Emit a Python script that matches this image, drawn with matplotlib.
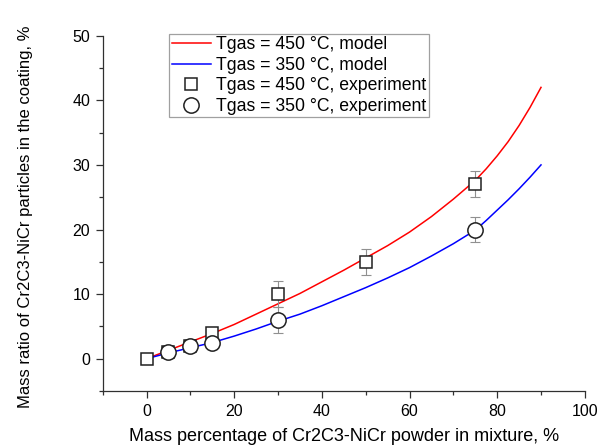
import numpy as np
import matplotlib
matplotlib.use("Agg")
import matplotlib.pyplot as plt
from matplotlib.ticker import MultipleLocator

plt.rcParams["font.family"] = ["Liberation Sans", "DejaVu Sans"]

# model curves
model_x = [0, 5, 10, 15, 20, 25, 30, 35, 40, 45, 50, 55, 60, 65, 70, 75,
           77.5, 80, 82.5, 85, 87.5, 90]
model_450 = [0, 1.3, 2.6, 3.9, 5.3, 6.9, 8.5, 10.1, 11.9, 13.7, 15.6, 17.5, 19.6,
             22.0, 24.7, 27.6, 29.4, 31.4, 33.6, 36.1, 38.9, 42.0]
model_350 = [0, 0.9, 1.7, 2.5, 3.5, 4.6, 5.8, 6.9, 8.2, 9.6, 11.0, 12.5, 14.1,
             15.9, 17.8, 19.9, 21.4, 23.0, 24.6, 26.3, 28.1, 30.0]

# experiments
exp450_x = [0, 5, 10, 15, 30, 50, 75]
exp450_y = [0, 1, 2, 4, 10, 15, 27]
exp450_err = [0, 0, 0, 0, 2, 2, 2]

exp350_x = [5, 10, 15, 30, 75]
exp350_y = [1, 2, 2.5, 6, 20]
exp350_err = [0, 0, 0, 2, 2]

fig = plt.figure(figsize=(5.98, 4.45), dpi=100)
ax = fig.add_axes([0.1717, 0.1213, 0.8063, 0.7985])

ax.plot(model_x, model_450, color="red", lw=1.1, label="Tgas = 450 °C, model", zorder=2)
ax.plot(model_x, model_350, color="blue", lw=1.1, label="Tgas = 350 °C, model", zorder=2)

ax.errorbar(exp450_x, exp450_y, yerr=exp450_err, fmt="none", ecolor="#909090",
            elinewidth=0.8, capsize=3.5, capthick=0.8, zorder=3)
ax.errorbar(exp350_x, exp350_y, yerr=exp350_err, fmt="none", ecolor="#909090",
            elinewidth=0.8, capsize=3.5, capthick=0.8, zorder=3)
ax.plot(exp450_x, exp450_y, ls="none", marker="s", ms=9, mfc="white", mec="#202020",
        mew=1.1, label="Tgas = 450 °C, experiment", zorder=4)
ax.plot(exp350_x, exp350_y, ls="none", marker="o", ms=11, mfc="white", mec="#202020",
        mew=1.1, label="Tgas = 350 °C, experiment", zorder=5)

ax.set_xlim(-10, 100)
ax.set_ylim(-5, 50)
ax.xaxis.set_major_locator(MultipleLocator(20))
ax.xaxis.set_minor_locator(MultipleLocator(10))
ax.yaxis.set_major_locator(MultipleLocator(10))
ax.yaxis.set_minor_locator(MultipleLocator(5))

for s in ["top", "right"]:
    ax.spines[s].set_visible(False)
for s in ["left", "bottom"]:
    ax.spines[s].set_color("#303030")
    ax.spines[s].set_linewidth(0.9)

ax.tick_params(which="major", direction="out", length=5, width=0.9, color="#303030",
               labelsize=11.5, pad=4)
ax.tick_params(which="minor", direction="out", length=3, width=0.9, color="#303030")

ax.set_xlabel("Mass percentage of Cr2C3-NiCr powder in mixture, %", fontsize=13, labelpad=7)
ax.set_ylabel("Mass ratio of Cr2C3-NiCr particles in the coating, %", fontsize=12)
ax.yaxis.set_label_coords(-0.145, 0.49)

leg = ax.legend(loc="upper left", bbox_to_anchor=(0.138, 1.006), fontsize=12.7,
                frameon=True, fancybox=False, edgecolor="#a0a0a0", framealpha=1,
                handlelength=2.2, handletextpad=0.3, labelspacing=0.2,
                borderpad=0.15, borderaxespad=0)
leg.get_frame().set_linewidth(0.9)

fig.savefig("out.png", dpi=100)
